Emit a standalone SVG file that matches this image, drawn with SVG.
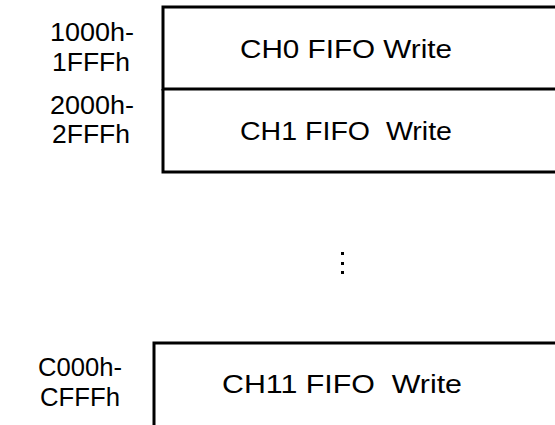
<svg xmlns="http://www.w3.org/2000/svg" width="555" height="425" viewBox="0 0 555 425">
<style>
  .t { font-family: "Liberation Sans", Arial, sans-serif; font-size: 25px; fill: #000; }
  .box { fill: none; stroke: #000; stroke-width: 3; }
</style>
<rect width="555" height="425" fill="#fff"/>
<g id="labels">
  <text class="t" x="50" y="41" textLength="84" lengthAdjust="spacingAndGlyphs">1000h-</text>
  <text class="t" x="52" y="71" textLength="78" lengthAdjust="spacingAndGlyphs">1FFFh</text>
  <text class="t" x="50" y="114" textLength="84" lengthAdjust="spacingAndGlyphs">2000h-</text>
  <text class="t" x="52" y="143" textLength="78" lengthAdjust="spacingAndGlyphs">2FFFh</text>
  <text class="t" x="38" y="376" textLength="84" lengthAdjust="spacingAndGlyphs">C000h-</text>
  <text class="t" x="40" y="406" textLength="80" lengthAdjust="spacingAndGlyphs">CFFFh</text>
</g>
<g id="ch0">
  <path class="box" d="M560 7 H163 V89 H560"/>
  <text class="t" x="240" y="58" textLength="212" lengthAdjust="spacingAndGlyphs">CH0 FIFO Write</text>
</g>
<g id="ch1">
  <path class="box" d="M163 89 V172 H560"/>
  <text class="t" x="240" y="140" textLength="212" lengthAdjust="spacingAndGlyphs" xml:space="preserve">CH1 FIFO  Write</text>
</g>
<g id="ellipsis">
  <rect x="341" y="252" width="3" height="3"/>
  <rect x="341" y="262" width="3" height="3"/>
  <rect x="341" y="271" width="3" height="3"/>
</g>
<g id="ch11">
  <path class="box" d="M560 343 H154 V430"/>
  <text class="t" x="222" y="393" textLength="240" lengthAdjust="spacingAndGlyphs" xml:space="preserve">CH11 FIFO  Write</text>
</g>
<g id="connectors"></g>
</svg>
